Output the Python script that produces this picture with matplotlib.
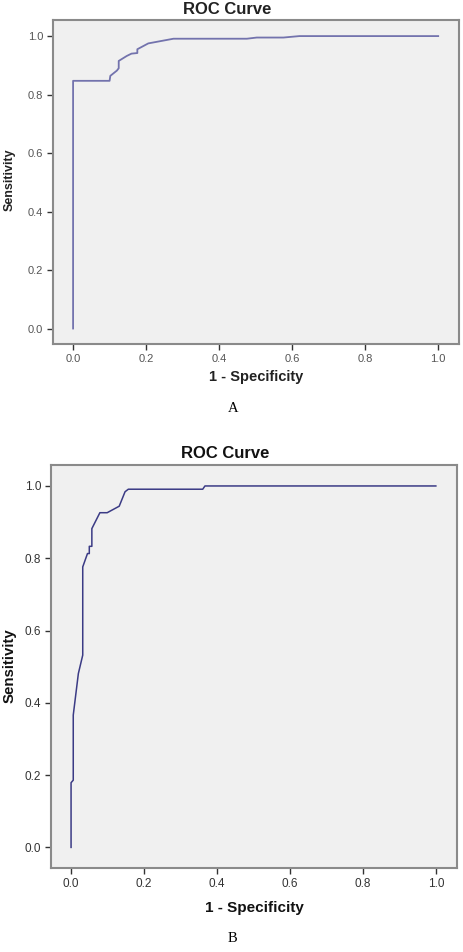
import matplotlib
matplotlib.use("Agg")
import matplotlib.pyplot as plt
import numpy as np

# ROC curve A: (1 - specificity, sensitivity)
fpr_a = [0.0, 0.0, 0.100, 0.102, 0.120, 0.125, 0.125, 0.147, 0.160, 0.176, 0.176, 0.206,
         0.275, 0.476, 0.503, 0.576, 0.620, 1.0]
tpr_a = [0.0, 0.847, 0.847, 0.864, 0.882, 0.890, 0.915, 0.932, 0.940, 0.942, 0.955, 0.975,
         0.991, 0.991, 0.995, 0.995, 1.0, 1.0]

# ROC curve B
fpr_b = [0.0, 0.0, 0.006, 0.006, 0.020, 0.032, 0.032, 0.045, 0.050, 0.050, 0.057, 0.057,
         0.079, 0.099, 0.132, 0.148, 0.157, 0.361, 0.367, 1.0]
tpr_b = [0.0, 0.179, 0.186, 0.366, 0.481, 0.532, 0.776, 0.813, 0.813, 0.833, 0.833, 0.882,
         0.926, 0.926, 0.944, 0.984, 0.991, 0.991, 1.0, 1.0]

ticks = [0.0, 0.2, 0.4, 0.6, 0.8, 1.0]
W, H = 464, 952

fig = plt.figure(figsize=(W / 100, H / 100), dpi=100)
fig.patch.set_facecolor("white")


def px_axes(left, top, right, bottom):
    return fig.add_axes([left / W, 1 - bottom / H, (right - left) / W, (bottom - top) / H])


def style_axes(ax, tick_size, tick_color):
    ax.set_facecolor("#f0f0f0")
    for s in ax.spines.values():
        s.set_color("#8a8a8a")
        s.set_linewidth(1.5)
    ax.set_xticks(ticks)
    ax.set_yticks(ticks)
    ax.set_xticklabels([f"{t:.1f}" for t in ticks])
    ax.set_yticklabels([f"{t:.1f}" for t in ticks])
    ax.tick_params(direction="out", length=4, width=1, color="#333333",
                   labelsize=tick_size, labelcolor=tick_color, pad=3)
    for lab in ax.get_xticklabels() + ax.get_yticklabels():
        lab.set_family("Liberation Sans")


# Panel A
ax_a = px_axes(53, 20, 459, 344)
ax_a.plot(fpr_a, tpr_a, color="#7373ad", linewidth=1.3)
ax_a.set_xlim(-0.055, 1.057)
ax_a.set_ylim(-0.053, 1.055)
style_axes(ax_a, 8, "#555555")
fig.text(227 / W, 1 - 9 / H, "ROC Curve", ha="center", va="center",
         fontsize=12, fontweight="bold", family="Liberation Sans", color="#222222")
fig.text(256 / W, 1 - 377 / H, "1 - Specificity", ha="center", va="center",
         fontsize=10.5, fontweight="bold", family="Liberation Sans", color="#222222")
fig.text(10 / W, 1 - 180 / H, "Sensitivity", ha="center", va="center", rotation=90,
         fontsize=9, fontweight="bold", family="Liberation Sans", color="#222222")
fig.text(233 / W, 1 - 409 / H, "A", ha="center", va="center",
         fontsize=10.5, family="Liberation Serif")

# Panel B
ax_b = px_axes(51, 465, 457, 868)
ax_b.plot(fpr_b, tpr_b, color="#3b3b85", linewidth=1.1)
ax_b.set_xlim(-0.055, 1.058)
ax_b.set_ylim(-0.057, 1.058)
style_axes(ax_b, 8.5, "#333333")
fig.text(225 / W, 1 - 453 / H, "ROC Curve", ha="center", va="center",
         fontsize=12, fontweight="bold", family="Liberation Sans", color="#111111")
fig.text(254 / W, 1 - 908 / H, "1 - Specificity", ha="center", va="center",
         fontsize=11, fontweight="bold", family="Liberation Sans", color="#111111")
fig.text(10 / W, 1 - 666 / H, "Sensitivity", ha="center", va="center", rotation=90,
         fontsize=10.8, fontweight="bold", family="Liberation Sans", color="#111111")
fig.text(232 / W, 1 - 939 / H, "B", ha="center", va="center",
         fontsize=10.5, family="Liberation Serif")

fig.savefig("out.png", dpi=100)
